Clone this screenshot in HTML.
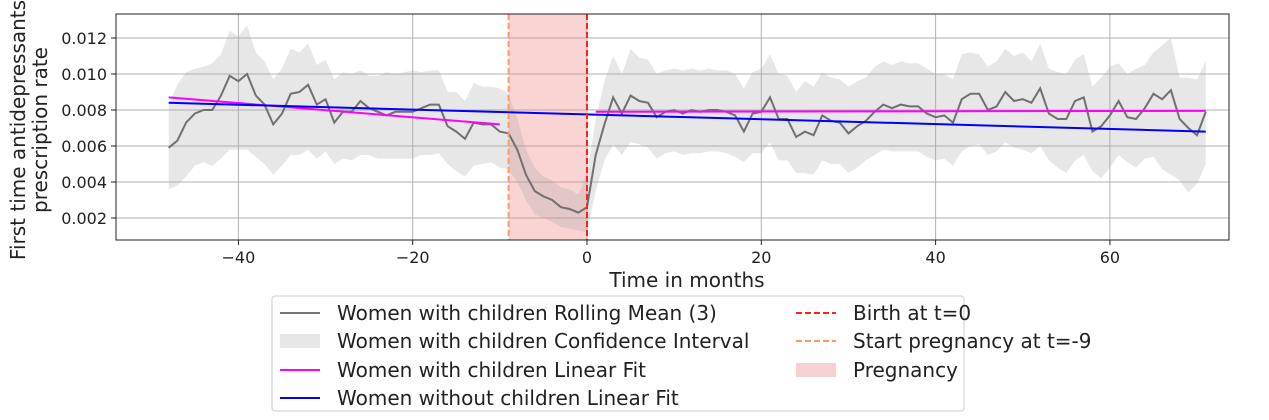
<!DOCTYPE html>
<html><head><meta charset="utf-8"><style>
body{margin:0;background:#fff;}
svg{display:block;font-family:"DejaVu Sans","Liberation Sans",sans-serif;}
</style></head><body>
<svg id="chart" width="1269" height="420">
<g id="grid"></g>
<g id="marks"></g>
<rect x="116" y="14" width="1113" height="226" fill="none" stroke="#222" stroke-width="1"/>
<g id="axes"></g>
<text x="687" y="287" font-size="20" text-anchor="middle" fill="#222">Time in months</text>
<text transform="translate(25,130) rotate(-90)" font-size="20" text-anchor="middle" fill="#222"><tspan x="0" y="0">First time antidepressants</tspan><tspan x="0" y="22">prescription rate</tspan></text>
<g>
<rect x="272" y="296" width="692" height="115" rx="3" fill="#fff" stroke="#ccc"/>
<g font-size="20" fill="#222">
<line x1="280" y1="313" x2="320" y2="313" stroke="#777" stroke-width="2"/>
<text x="337" y="320">Women with children Rolling Mean (3)</text>
<rect x="280" y="334" width="40" height="14" fill="#e6e6e6"/>
<text x="337" y="348">Women with children Confidence Interval</text>
<line x1="280" y1="370" x2="320" y2="370" stroke="#ff00ff" stroke-width="2"/>
<text x="337" y="377">Women with children Linear Fit</text>
<line x1="280" y1="398" x2="320" y2="398" stroke="#0000ff" stroke-width="2"/>
<text x="337" y="405">Women without children Linear Fit</text>
<line x1="796" y1="313" x2="836" y2="313" stroke="#ff2020" stroke-width="2" stroke-dasharray="6,3"/>
<text x="853" y="320">Birth at t=0</text>
<line x1="796" y1="341" x2="836" y2="341" stroke="#ff9966" stroke-width="2" stroke-dasharray="6,3"/>
<text x="853" y="348">Start pregnancy at t=-9</text>
<rect x="796" y="363" width="40" height="14" fill="#f6d2d2"/>
<text x="853" y="377">Pregnancy</text>
</g></g>
</svg>
<script>
const months=[];for(let m=-48;m<=71;m++)months.push(m);
const meanVals=[0.0059,0.0063,0.0073,0.0078,0.0080,0.0080,0.0088,0.0099,0.0096,0.0100,0.0088,0.0083,0.0072,0.0078,0.0089,0.0090,0.0094,0.0083,0.0086,0.0073,0.0079,0.0079,0.0085,0.0081,0.0079,0.0077,0.0079,0.0079,0.0079,0.0081,0.0083,0.0083,0.0071,0.0068,0.0064,0.0073,0.0072,0.0072,0.0068,0.0067,0.0058,0.0044,0.0035,0.0032,0.0030,0.0026,0.0025,0.0023,0.0026,0.0055,0.0072,0.0087,0.0078,0.0088,0.0085,0.0084,0.0076,0.0079,0.0080,0.0078,0.0080,0.0079,0.0080,0.0080,0.0079,0.0077,0.0068,0.0078,0.0079,0.0087,0.0075,0.0075,0.0065,0.0068,0.0066,0.0077,0.0074,0.0073,0.0067,0.0071,0.0074,0.0079,0.0083,0.0081,0.0083,0.0082,0.0082,0.0078,0.0076,0.0077,0.0073,0.0086,0.0089,0.0089,0.0080,0.0082,0.0090,0.0085,0.0086,0.0084,0.0092,0.0078,0.0075,0.0075,0.0085,0.0087,0.0068,0.0071,0.0077,0.0085,0.0076,0.0075,0.0081,0.0089,0.0086,0.0091,0.0075,0.0070,0.0066,0.0079];
const ciUpper=[0.0083,0.0094,0.0101,0.0103,0.0104,0.0106,0.0111,0.0124,0.0121,0.0127,0.0112,0.0107,0.0097,0.0103,0.0114,0.0112,0.0117,0.0105,0.0108,0.0097,0.0101,0.0100,0.0102,0.0099,0.0099,0.0101,0.0100,0.0101,0.0102,0.0101,0.0102,0.0102,0.0090,0.0090,0.0085,0.0095,0.0093,0.0093,0.0092,0.0089,0.0075,0.0058,0.0048,0.0043,0.0041,0.0037,0.0036,0.0033,0.0044,0.0075,0.0096,0.0110,0.0100,0.0114,0.0109,0.0108,0.0100,0.0102,0.0103,0.0102,0.0103,0.0102,0.0103,0.0102,0.0102,0.0100,0.0092,0.0101,0.0103,0.0111,0.0100,0.0099,0.0090,0.0096,0.0093,0.0101,0.0098,0.0097,0.0093,0.0096,0.0098,0.0104,0.0107,0.0105,0.0107,0.0106,0.0106,0.0103,0.0100,0.0100,0.0097,0.0111,0.0112,0.0111,0.0104,0.0107,0.0114,0.0110,0.0112,0.0107,0.0117,0.0103,0.0101,0.0100,0.0108,0.0111,0.0093,0.0098,0.0104,0.0106,0.0100,0.0103,0.0105,0.0112,0.0116,0.0120,0.0098,0.0098,0.0097,0.0107];
const ciLower=[0.0036,0.0038,0.0043,0.0049,0.0051,0.0049,0.0053,0.0058,0.0058,0.0058,0.0054,0.0050,0.0044,0.0049,0.0055,0.0055,0.0058,0.0053,0.0057,0.0050,0.0053,0.0052,0.0055,0.0055,0.0053,0.0053,0.0053,0.0053,0.0053,0.0055,0.0055,0.0056,0.0050,0.0046,0.0043,0.0049,0.0050,0.0051,0.0048,0.0047,0.0040,0.0030,0.0022,0.0020,0.0018,0.0015,0.0014,0.0013,0.0012,0.0035,0.0052,0.0061,0.0055,0.0062,0.0061,0.0059,0.0053,0.0056,0.0057,0.0055,0.0056,0.0056,0.0057,0.0057,0.0056,0.0054,0.0051,0.0056,0.0056,0.0062,0.0052,0.0052,0.0045,0.0045,0.0044,0.0052,0.0050,0.0050,0.0045,0.0048,0.0052,0.0055,0.0058,0.0057,0.0057,0.0057,0.0057,0.0054,0.0052,0.0053,0.0049,0.0057,0.0060,0.0061,0.0055,0.0057,0.0062,0.0059,0.0058,0.0056,0.0060,0.0052,0.0048,0.0045,0.0052,0.0055,0.0046,0.0042,0.0048,0.0055,0.0051,0.0048,0.0053,0.0054,0.0047,0.0044,0.0041,0.0034,0.0039,0.0050];
const fitPreX=[-48,-10], fitPreY=[0.0087,0.0072];
const fitPostX=[1,71], fitPostY=[0.00790,0.00795];
const fitNoKidsX=[-48,71], fitNoKidsY=[0.0084,0.0068];
const xTicks=[-40,-20,0,20,40,60];
const yTicks=[0.002,0.004,0.006,0.008,0.010,0.012];
const birthAt=0, pregStart=-9;

const X=v=>587+(v*174.3/20);
const Y=v=>218-(v-0.002)*18000;
const NS="http://www.w3.org/2000/svg";
function mk(tag,attrs,parent){const e=document.createElementNS(NS,tag);for(const k in attrs)e.setAttribute(k,attrs[k]);parent.appendChild(e);return e;}
const grid=document.getElementById('grid'),marks=document.getElementById('marks'),axes=document.getElementById('axes');
xTicks.forEach(t=>{
 const l=mk('line',{x1:X(t),x2:X(t),y1:14,y2:240,stroke:'#b0b0b0','stroke-width':1},grid);
 
 
 mk('line',{x1:X(t),x2:X(t),y1:240,y2:245,stroke:'#222'},axes);
 const tx=mk('text',{x:X(t),y:263,'font-size':16,'text-anchor':'middle',fill:'#222'},axes);
 tx.textContent=(t<0?'\u2212'+(-t):t);
 
 
});
yTicks.forEach(t=>{
 const l=mk('line',{x1:116,x2:1229,y1:Y(t),y2:Y(t),stroke:'#b0b0b0','stroke-width':1},grid);
 
 
 mk('line',{x1:111,x2:116,y1:Y(t),y2:Y(t),stroke:'#222'},axes);
 const tx=mk('text',{x:107,y:Y(t)+6,'font-size':16,'text-anchor':'end',fill:'#222'},axes);
 tx.textContent=t.toFixed(3);
 
 
});
const span=mk('rect',{x:X(pregStart),y:14,width:X(birthAt)-X(pregStart),height:226,fill:'#f08080','fill-opacity':0.35},marks);


let d='M'+months.map((m,i)=>X(m)+','+Y(ciUpper[i])).join(' L');
for(let i=months.length-1;i>=0;i--)d+=' L'+X(months[i])+','+Y(ciLower[i]);
const band=mk('path',{d:d+'Z',fill:'#aaaaaa','fill-opacity':0.28},marks);


const ml=mk('polyline',{points:months.map((m,i)=>X(m)+','+Y(meanVals[i])).join(' '),fill:'none',stroke:'#707070','stroke-width':2},marks);


function fit(xs,ys,col,name){const l=mk('line',{x1:X(xs[0]),y1:Y(ys[0]),x2:X(xs[1]),y2:Y(ys[1]),stroke:col,'stroke-width':2},marks);}
fit(fitPreX,fitPreY,'#ff00ff','with-children-fit-pre');
fit(fitPostX,fitPostY,'#ff00ff','with-children-fit-post');
fit(fitNoKidsX,fitNoKidsY,'#0000ff','without-children-fit');
const sp=mk('line',{x1:X(pregStart),x2:X(pregStart),y1:14,y2:240,stroke:'#ff9966','stroke-width':2,'stroke-dasharray':'6,3'},marks);


const bl=mk('line',{x1:X(birthAt),x2:X(birthAt),y1:14,y2:240,stroke:'#ff2020','stroke-width':2,'stroke-dasharray':'6,3'},marks);


</script>
</body></html>
